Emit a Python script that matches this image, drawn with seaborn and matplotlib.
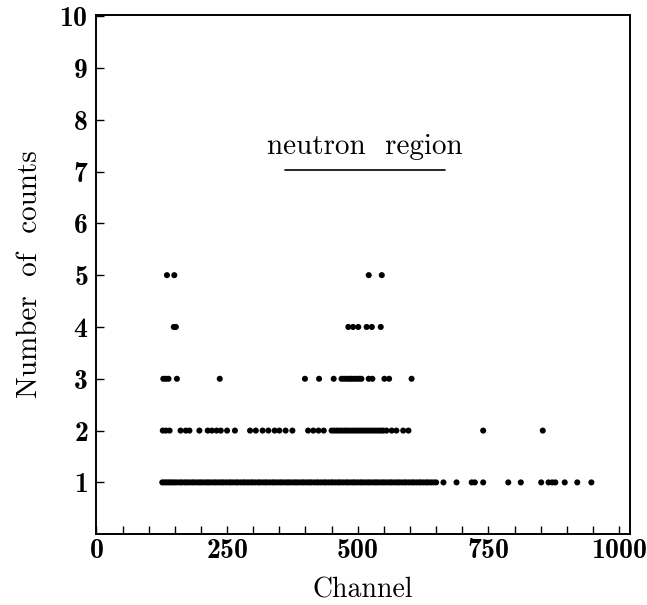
import matplotlib
matplotlib.use("Agg")
import matplotlib.pyplot as plt
from matplotlib.ticker import MultipleLocator
import seaborn as sns
import pandas as pd

ch_count1 = [126, 130, 134, 138, 142, 146, 150, 155, 160, 164, 169, 173, 178, 183, 187,
             192, 197, 201, 206, 211, 215, 220, 225, 229, 234, 239, 243, 248, 253, 257,
             262, 267, 271, 276, 281, 285, 290, 295, 299, 304, 309, 313, 318, 323, 327,
             332, 337, 341, 346, 351, 355, 360, 365, 369, 374, 379, 383, 388, 393, 397,
             402, 407, 411, 416, 421, 425, 430, 435, 439, 444, 449, 453, 458, 463, 467,
             472, 477, 481, 486, 491, 495, 500, 505, 509, 514, 519, 523, 528, 533, 537,
             542, 547, 551, 556, 561, 565, 570, 575, 579, 584, 589, 593, 598, 603, 607,
             612, 617, 621, 626, 631, 635, 640, 645, 650, 664, 689, 718, 724, 740, 788,
             812, 851, 865, 872, 878, 896, 920, 947]
ch_count2 = [127, 133, 140, 161, 171, 178, 197, 213, 221, 230, 238, 250, 265, 294, 305,
             318, 329, 341, 350, 362, 375, 405, 415, 425, 435, 450, 455, 460, 465, 470,
             475, 480, 485, 490, 495, 500, 505, 510, 515, 520, 525, 530, 535, 540, 545,
             549, 555, 565, 574, 587, 597, 740, 854]
ch_count3 = [128, 133, 138, 154, 236, 399, 426, 454, 469, 474, 479, 484, 488, 493, 498,
             503, 507, 521, 528, 551, 560, 603]
ch_count4 = [148, 152, 482, 491, 501, 517, 527, 544]
ch_count5 = [135, 149, 521, 546]

region_label = "neutron  region"
region_start, region_end, region_level = 360, 667, 7.03

x_ticks = [0, 250, 500, 750, 1000]
y_ticks = list(range(1, 11))

rows = []
for n, chans in enumerate([ch_count1, ch_count2, ch_count3, ch_count4, ch_count5], start=1):
    rows += [(c, n) for c in chans]
df = pd.DataFrame(rows, columns=["channel", "counts"])

sns.set_theme(style="ticks")
plt.rcParams["font.family"] = ["cmr10", "DejaVu Serif"]
plt.rcParams["axes.formatter.use_mathtext"] = True
plt.rcParams["text.color"] = "black"
plt.rcParams["axes.labelcolor"] = "black"

fig = plt.figure(figsize=(6.47, 6.05), dpi=100)
ax = fig.add_axes([0.149, 0.117, 0.824, 0.859])

sns.scatterplot(data=df, x="channel", y="counts", color="black", s=19,
                edgecolor="none", linewidth=0, ax=ax)

ax.plot([region_start, region_end], [region_level, region_level], color="black", lw=1.2)
ax.text((region_start + region_end) / 2, region_level + 0.2, region_label,
        ha="center", va="bottom", fontsize=21, color="black")

ax.set_xlim(0, 1020)
ax.set_ylim(0, 10.03)
ax.set_xticks(x_ticks)
ax.set_yticks(y_ticks)
ax.xaxis.set_minor_locator(MultipleLocator(50))
ax.tick_params(which="both", direction="in", length=6, width=1, colors="black",
               top=False, right=False)
ax.tick_params(axis="x", pad=3)
ax.tick_params(axis="y", pad=6)

for lbl in ax.get_xticklabels() + ax.get_yticklabels():
    lbl.set_fontfamily("cmb10")
    lbl.set_fontsize(20)

ax.set_xlabel("Channel", fontsize=20, labelpad=9, color="black")
ax.set_ylabel("Number  of  counts", fontsize=21, labelpad=12, color="black")

for sp in ax.spines.values():
    sp.set_color("black")
    sp.set_linewidth(1.4)

fig.savefig("out.png", dpi=100, facecolor="white")
